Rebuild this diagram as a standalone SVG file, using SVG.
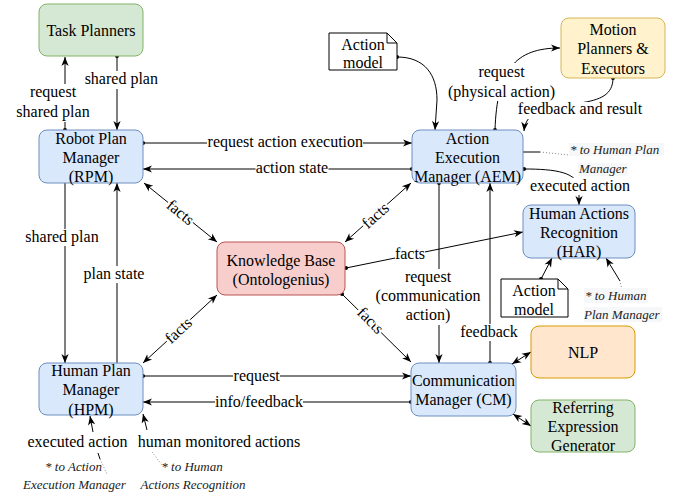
<svg xmlns="http://www.w3.org/2000/svg" width="683" height="495" viewBox="0 0 683 495">
<style>
text{font-family:"Liberation Serif","Times New Roman",serif;font-size:16px;fill:#000}
.c{text-anchor:middle}
.it{font-style:italic;font-size:13px;fill:#222}
.e{fill:none;stroke:#000;stroke-width:1}
.d{fill:none;stroke:#888;stroke-width:1;stroke-dasharray:1 2}
.bg{fill:#fff}
.ibg{fill:#f6f7f8}
.blue{fill:#dae8fc;stroke:#6c8ebf}
.green{fill:#d5e8d4;stroke:#82b366}
.red{fill:#f8cecc;stroke:#b85450}
.yel{fill:#fff2cc;stroke:#d6b656}
.org{fill:#ffe6cc;stroke:#d79b00}
.note{fill:#fff;stroke:#000}
</style>
<defs>
<marker id="a" viewBox="-10 -5 11 10" refX="0" refY="0" markerWidth="11" markerHeight="10" markerUnits="userSpaceOnUse" orient="auto-start-reverse">
<path d="M0,0 L-9,-3.6 L-6.5,0 L-9,3.6 Z" fill="#000"/>
</marker>
<marker id="o" viewBox="-3 -3 6 6" refX="0" refY="0" markerWidth="6" markerHeight="6" markerUnits="userSpaceOnUse">
<circle r="2" fill="#000"/>
</marker>
</defs>

<g id="connectors">
<path class="e" d="M65,130 L65,57" marker-start="url(#o)" marker-end="url(#a)"/>
<path class="e" d="M117,56 L117,130" marker-start="url(#o)" marker-end="url(#a)"/>
<path class="e" d="M143,143 L412,143" marker-start="url(#o)" marker-end="url(#a)"/>
<path class="e" d="M412,169 L143,169" marker-start="url(#o)" marker-end="url(#a)"/>
<path class="e" d="M144,183 L217,242" marker-start="url(#a)" marker-end="url(#a)"/>
<path class="e" d="M411,183 L345,242" marker-start="url(#a)" marker-end="url(#a)"/>
<path class="e" d="M143,363 L217,295" marker-start="url(#a)" marker-end="url(#a)"/>
<path class="e" d="M342,294 L411,362" marker-start="url(#o)" marker-end="url(#a)"/>
<path class="e" d="M346,268 L523,232" marker-start="url(#o)" marker-end="url(#a)"/>
<path class="e" d="M65,183 L65,363" marker-end="url(#a)"/>
<path class="e" d="M117,363 L117,183" marker-end="url(#a)"/>
<path class="e" d="M397,57 C425,57 437,75 437,100 L435,130" marker-start="url(#o)" marker-end="url(#a)"/>
<path class="e" d="M495,130 C497,70 515,48 560,48" marker-start="url(#o)" marker-end="url(#a)"/>
<path class="e" d="M613,78 C613,95 600,100 580,103 C545,108 526,110 524,131" marker-start="url(#o)" marker-end="url(#a)"/>
<path class="e" d="M524,169 C555,169 579,172 579,190 L579,205" marker-start="url(#o)" marker-end="url(#a)"/>
<path class="e" d="M523,152 L540,152"/>
<path class="d" d="M540,152 L569,155"/>
<path class="e" d="M620,281 L606,258" marker-end="url(#a)"/>
<path class="d" d="M622,290 L620,281"/>
<path class="e" d="M541,279 L552,258" marker-start="url(#o)" marker-end="url(#a)"/>
<path class="e" d="M439,183 L439,363" marker-start="url(#o)" marker-end="url(#a)"/>
<path class="e" d="M490,363 L490,183" marker-start="url(#o)" marker-end="url(#a)"/>
<path class="e" d="M512,364 L531,352" marker-start="url(#a)" marker-end="url(#a)"/>
<path class="e" d="M513,414 L531,426" marker-start="url(#a)" marker-end="url(#a)"/>
<path class="e" d="M143,376 L411,376" marker-start="url(#o)" marker-end="url(#a)"/>
<path class="e" d="M411,402 L143,402" marker-start="url(#o)" marker-end="url(#a)"/>
<path class="e" d="M93,432 L90,416" marker-end="url(#a)"/>
<path class="e" d="M147,430 L143,414" marker-end="url(#a)"/>
<path class="e" d="M98,453 L100,459"/>
<path class="d" d="M100,459 L107,474"/>
<path class="d" d="M152,452 L162,465"/>

<rect class="bg" x="16" y="84" width="74" height="38"/>
<text class="c" x="53" y="97.3">request</text>
<text class="c" x="53" y="117.3">shared plan</text>
<rect class="bg" x="84.5" y="71" width="73.5" height="18"/>
<text class="c" x="121.3" y="84">shared plan</text>
<rect class="bg" x="207" y="135" width="156" height="16"/>
<text class="c" x="285.3" y="147">request action execution</text>
<rect class="bg" x="255.5" y="161" width="73" height="16"/>
<text class="c" x="292" y="173.3">action state</text>
<g transform="translate(180,213) rotate(38.9)"><rect class="bg" x="-16" y="-8" width="32" height="16"/><text class="c" y="4.5">facts</text></g>
<g transform="translate(376,216) rotate(-41.8)"><rect class="bg" x="-16" y="-8" width="32" height="16"/><text class="c" y="4.5">facts</text></g>
<g transform="translate(179,331) rotate(-42.5)"><rect class="bg" x="-16" y="-8" width="32" height="16"/><text class="c" y="4.5">facts</text></g>
<g transform="translate(370,321) rotate(45)"><rect class="bg" x="-16" y="-8" width="32" height="16"/><text class="c" y="4.5">facts</text></g>
<rect class="bg" x="395" y="246" width="30" height="16"/>
<text class="c" x="410" y="258.5">facts</text>
<rect class="bg" x="25" y="229" width="74" height="17"/>
<text class="c" x="62" y="241.7">shared plan</text>
<rect class="bg" x="83" y="266" width="62" height="17"/>
<text class="c" x="114" y="279">plan state</text>
<rect class="bg" x="447" y="63" width="110" height="38"/>
<text class="c" x="501.5" y="76.7">request</text>
<text class="c" x="501.5" y="96.7">(physical action)</text>
<rect class="bg" x="517" y="102" width="126" height="17"/>
<text class="c" x="580" y="114.3">feedback and result</text>
<rect class="bg" x="529" y="178" width="102" height="17"/>
<text class="c" x="580" y="190.7">executed action</text>
<rect class="bg" x="375.5" y="269" width="105" height="56"/>
<text class="c" x="428" y="282">request</text>
<text class="c" x="428" y="301.2">(communication</text>
<text class="c" x="428" y="320.4">action)</text>
<rect class="bg" x="460" y="324" width="59" height="17"/>
<text class="c" x="489" y="336.7">feedback</text>
<rect class="bg" x="233" y="368" width="47" height="16"/>
<text class="c" x="256.7" y="380.7">request</text>
<rect class="bg" x="215" y="395" width="88" height="16"/>
<text class="c" x="259" y="407.3">info/feedback</text>
<text class="c" x="77.5" y="446.7">executed action</text>
<text class="c" x="219" y="446.7">human monitored actions</text>
<text class="c it" x="73.5" y="470.5">* to Action</text>
<text class="c it" x="74.5" y="489">Execution Manager</text>
<text class="c it" x="192" y="470.5">* to Human</text>
<text class="c it" x="193" y="489">Actions Recognition</text>
<rect class="ibg" x="569" y="143" width="95" height="13"/>
<text class="it" x="570" y="154">* to Human Plan</text>
<rect class="ibg" x="578" y="163" width="50" height="13"/>
<text class="it" x="579" y="173.3">Manager</text>
<rect class="ibg" x="584" y="288" width="64" height="15"/>
<text class="it" x="585" y="300">* to Human</text>
<rect class="ibg" x="584" y="307" width="78" height="15"/>
<text class="it" x="584" y="318.5">Plan Manager</text>
</g>

<g id="task-planners"><rect class="green" x="39" y="4" width="104" height="52" rx="8"/><text class="c" x="91" y="35.5">Task Planners</text></g>
<g id="rpm"><rect class="blue" x="39" y="130" width="104" height="53" rx="8"/><text class="c" x="91" y="143.5">Robot Plan</text><text class="c" x="91" y="162.7">Manager</text><text class="c" x="91" y="181.9">(RPM)</text></g>
<g id="aem"><rect class="blue" x="412" y="130" width="111" height="53" rx="8"/><text class="c" x="467.5" y="143.5">Action</text><text class="c" x="467.5" y="162.7">Execution</text><text class="c" x="467.5" y="181.9">Manager (AEM)</text></g>
<g id="motion"><rect class="yel" x="561" y="18" width="104" height="60" rx="8"/><text class="c" x="613" y="35">Motion</text><text class="c" x="613" y="54.3">Planners &amp;</text><text class="c" x="613" y="73.5">Executors</text></g>
<g id="action-model-1"><path class="note" d="M329,33 H387 L397,43 V70 H329 Z M387,33 V43 H397"/><text class="c" x="363" y="49.5">Action</text><text class="c" x="363" y="67.5">model</text></g>
<g id="har"><rect class="blue" x="523" y="205" width="112" height="53" rx="8"/><text class="c" x="579" y="218.6">Human Actions</text><text class="c" x="579" y="237.8">Recognition</text><text class="c" x="579" y="257">(HAR)</text></g>
<g id="action-model-2"><path class="note" d="M501,279 H558 L568,289 V317 H501 Z M558,279 V289 H568"/><text class="c" x="534" y="295.5">Action</text><text class="c" x="534" y="314.5">model</text></g>
<g id="kb"><rect class="red" x="217" y="242" width="128" height="53" rx="8"/><text class="c" x="281" y="265.5">Knowledge Base</text><text class="c" x="281" y="285">(Ontologenius)</text></g>
<g id="hpm"><rect class="blue" x="39" y="363" width="104" height="52" rx="8"/><text class="c" x="91" y="376">Human Plan</text><text class="c" x="91" y="395.3">Manager</text><text class="c" x="91" y="414.5">(HPM)</text></g>
<g id="cm"><rect class="blue" x="411" y="363" width="105" height="53" rx="8"/><text class="c" x="463.5" y="386">Communication</text><text class="c" x="463.5" y="405.3">Manager (CM)</text></g>
<g id="nlp"><rect class="org" x="531" y="326" width="104" height="52" rx="8"/><text class="c" x="583" y="357.5">NLP</text></g>
<g id="reg"><rect class="green" x="531" y="400" width="104" height="52" rx="8"/><text class="c" x="583" y="413">Referring</text><text class="c" x="583" y="432">Expression</text><text class="c" x="583" y="451.3">Generator</text></g>
</svg>
